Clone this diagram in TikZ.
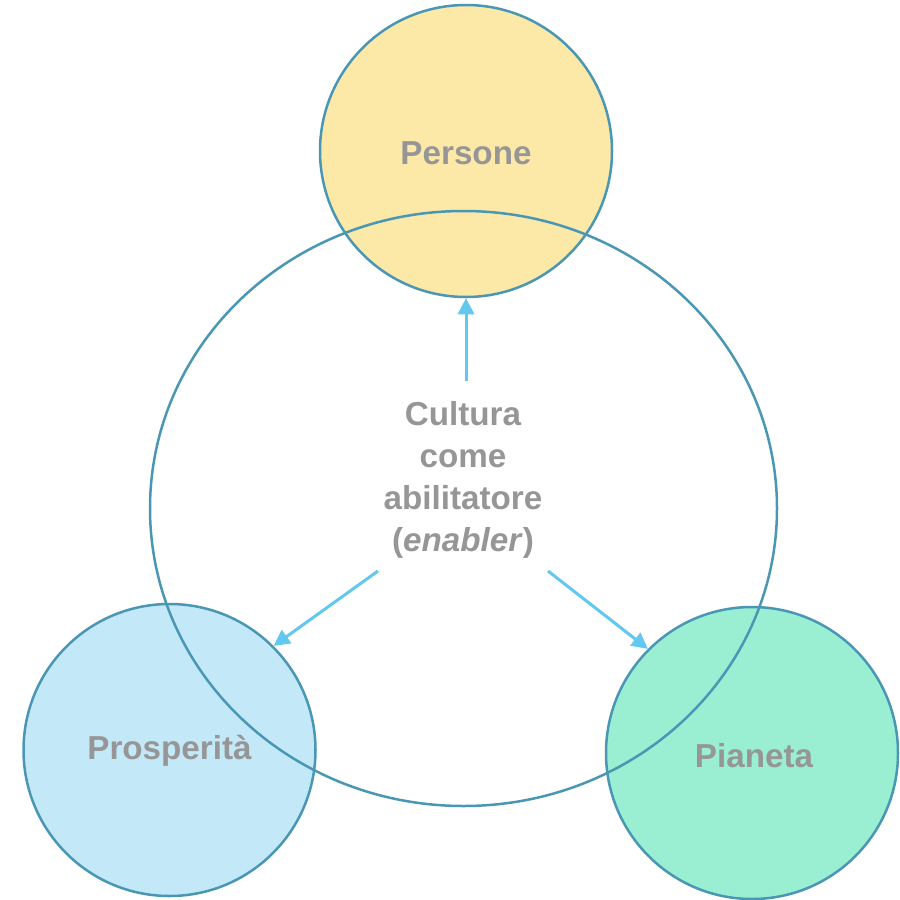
\documentclass[tikz,border=0pt]{standalone}
\usepackage{fontspec}
\setmainfont{Liberation Sans}
\usetikzlibrary{shapes.geometric,arrows.meta}
\definecolor{edgeblue}{HTML}{4A97B5}
\definecolor{arrowblue}{HTML}{62C8F0}
\definecolor{txtgray}{HTML}{969696}
\definecolor{fillyellow}{HTML}{FCE9A8}
\definecolor{fillblue}{HTML}{C3E9F9}
\definecolor{fillgreen}{HTML}{9AEFD3}
\tikzset{
  pillar/.style={circle, minimum size=146pt, inner sep=0pt, draw=edgeblue, line width=1.25pt},
  pillartext/.style={text=txtgray, font=\fontsize{16.6}{21}\selectfont\bfseries},
  bigring/.style={ellipse, minimum width=313.5pt, minimum height=297.5pt, inner sep=0pt, draw=edgeblue, line width=1.25pt},
  centertext/.style={align=center, font=\fontsize{16.6}{21}\selectfont\bfseries, text=txtgray, inner sep=0pt},
  flow/.style={draw=arrowblue, line width=1.5pt, -{Triangle[length=8pt,width=8pt]}}
}
\begin{document}
\begin{tikzpicture}[x=0.5pt,y=-0.5pt]
\useasboundingbox (0,0) rectangle (900,900);
\fill[white] (0,0) rectangle (900,900);
\node[pillar, fill=fillyellow] (pers) at (466,151) {};
\node[pillar, fill=fillblue] (pros) at (169.5,750) {};
\node[pillar, fill=fillgreen] (pian) at (752,753) {};
\node[bigring] (big) at (463.5,508.5) {};
\node[pillartext] (persT) at (466,153) {Persone};
\node[pillartext] (prosT) at (169.5,751) {Prosperità};
\node[pillartext] (pianT) at (754,756) {Pianeta};
\node[centertext] (cult) at (463,479.5) {Cultura\\come\\abilitatore\\(\textit{enabler})};
\coordinate (s1) at (466,381);
\coordinate (s2) at (378,571);
\coordinate (s3) at (548,571);
\draw[flow] (s1) -- (pers.270);
\draw[flow] (s2) -- (pros.45);
\draw[flow] (s3) -- (pian.135);
\end{tikzpicture}
\end{document}
